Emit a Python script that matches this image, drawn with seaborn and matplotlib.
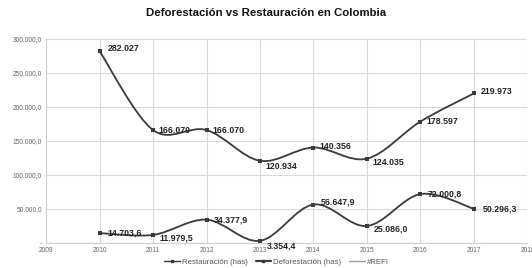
import matplotlib
matplotlib.use("Agg")
import matplotlib.pyplot as plt
import seaborn as sns
import pandas as pd
import numpy as np
from matplotlib.path import Path
from matplotlib.patches import PathPatch
from matplotlib.lines import Line2D

years = [2010, 2011, 2012, 2013, 2014, 2015, 2016, 2017]
restauracion = [14703.6, 11979.5, 34377.9, 3354.4, 56647.9, 25086.0, 72000.8, 50296.3]
deforestacion = [282027, 166070, 166070, 120934, 140356, 124035, 178597, 219973]
rest_labels = ["14.703,6", "11.979,5", "34.377,9", "3.354,4", "56.647,9", "25.086,0", "72.000,8", "50.296,3"]
defo_labels = ["282.027", "166.070", "166.070", "120.934", "140.356", "124.035", "178.597", "219.973"]
series_names = ["Restauración (has)", "Deforestación (has)", "#REF!"]
x_ticks = list(range(2009, 2019))
y_ticks = [0, 50000, 100000, 150000, 200000, 250000, 300000]
y_tick_labels = ["-", "50.000,0", "100.000,0", "150.000,0", "200.000,0", "250.000,0", "300.000,0"]
title = "Deforestación vs Restauración en Colombia"

sns.set_theme(style="white")
plt.rcParams['font.family'] = ['Liberation Sans', 'DejaVu Sans']

df = pd.DataFrame({
    "year": years * 2,
    "value": restauracion + deforestacion,
    "serie": [series_names[0]] * len(years) + [series_names[1]] * len(years),
})

fig = plt.figure(figsize=(5.32, 2.68), dpi=100)
ax = fig.add_axes([0.0865, 0.093, 0.905, 0.762])

line_color = "#3a3a3a"
sns.lineplot(data=df, x="year", y="value", hue="serie", palette=[line_color, line_color],
             marker="s", markersize=2.5, linewidth=0, markeredgewidth=0,
             ax=ax, legend=False)


def smooth_path(xs, ys):
    xs = np.asarray(xs, float)
    ys = np.asarray(ys, float)
    n = len(xs)
    verts = [(xs[0], ys[0])]
    codes = [Path.MOVETO]
    for i in range(n - 1):
        p0 = np.array([xs[max(i - 1, 0)], ys[max(i - 1, 0)]])
        p1 = np.array([xs[i], ys[i]])
        p2 = np.array([xs[i + 1], ys[i + 1]])
        p3 = np.array([xs[min(i + 2, n - 1)], ys[min(i + 2, n - 1)]])
        c1 = p1 + (p2 - p0) / 6.0
        c2 = p2 - (p3 - p1) / 6.0
        verts += [tuple(c1), tuple(c2), tuple(p2)]
        codes += [Path.CURVE4] * 3
    return Path(verts, codes)


for vals in (restauracion, deforestacion):
    ax.add_patch(PathPatch(smooth_path(years, vals), facecolor="none",
                           edgecolor=line_color, linewidth=1.3, zorder=3))

lab_kw = dict(fontsize=6.3, fontweight="bold", color="#222222", zorder=5,
              textcoords="offset points", va="center")
defo_off = [(6, 2), (4, 0), (4, 0), (4, -4), (4, 1), (4, -3), (4, 0), (5, 1)]
rest_off = [(6, 0), (5, -2), (5, 0), (5, -4), (5, 2), (5, -2), (5, 0), (6, 0)]
for x, y, t, o in zip(years, deforestacion, defo_labels, defo_off):
    ax.annotate(t, (x, y), xytext=o, **lab_kw)
for x, y, t, o in zip(years, restauracion, rest_labels, rest_off):
    ax.annotate(t, (x, y), xytext=o, **lab_kw)

ax.set_xlim(2009, 2018)
ax.set_ylim(0, 300000)
ax.set_xticks(x_ticks)
ax.set_xticklabels([str(v) for v in x_ticks])
ax.set_yticks(y_ticks)
ax.set_yticklabels(y_tick_labels)
ax.tick_params(axis="both", labelsize=4.8, colors="#666666", length=0, pad=3)
ax.grid(True, color="#d9d9d9", linewidth=0.8)
ax.set_axisbelow(True)
for s in ["top", "right"]:
    ax.spines[s].set_visible(False)
for s in ["left", "bottom"]:
    ax.spines[s].set_color("#cfcfcf")
    ax.spines[s].set_linewidth(0.8)
ax.set_xlabel("")
ax.set_ylabel("")

fig.text(0.5, 0.952, title, ha="center", va="center", fontsize=8.2, fontweight="bold", color="#111111")

handles = [
    Line2D([], [], color=line_color, linewidth=1.0, marker="s", markersize=2),
    Line2D([], [], color=line_color, linewidth=1.6, marker="s", markersize=2),
    Line2D([], [], color="#9a9a9a", linewidth=1.0),
]
fig.legend(handles, series_names, loc="center", bbox_to_anchor=(0.52, 0.022), ncol=3,
           frameon=False, fontsize=5.6, handlelength=2.0, columnspacing=1.0,
           handletextpad=0.3, labelcolor="#555555")

fig.savefig("out.png", dpi=100)
